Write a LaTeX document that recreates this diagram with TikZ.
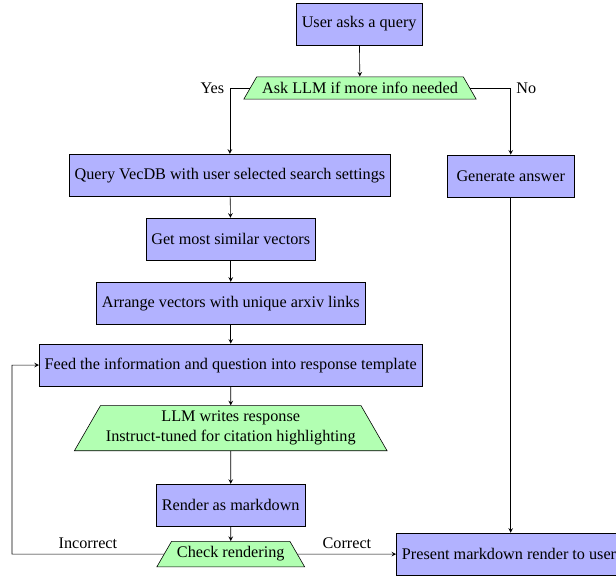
\documentclass[tikz,border=0pt,11pt]{standalone}
\usepackage{fontspec}
\setmainfont{Liberation Serif}
\usepackage{tikz}
\usetikzlibrary{shapes.geometric}
\usetikzlibrary{arrows}

\begin{document}
\begin{tikzpicture}[>=stealth,
    process/.style={rectangle,draw,fill=blue!30,minimum width=3cm,minimum height=1cm,align=center},
    decision/.style={trapezium,draw,fill=green!30,align=center}]

      \useasboundingbox (0,0) rectangle (14.63,-13.68);

      \node[process]   (query)   at (8.53, -0.57)   {User asks a query};
      \node[decision]  (ask)     at (8.55, -2.09)   {Ask LLM if more info needed};
      \node[process]   (vecdb)   at (5.46, -4.16)   {Query VecDB with user selected search settings};
      \node[process]   (answer)  at (12.13, -4.18)  {Generate answer};
      \node[process]   (similar) at (5.48, -5.68)   {Get most similar vectors};
      \node[process]   (arrange) at (5.48, -7.20)   {Arrange vectors with unique arxiv links};
      \node[process]   (feed)    at (5.48, -8.67)   {Feed the information and question into response template};
      \node[decision]  (llm)     at (5.48, -10.17)  {LLM writes response\\Instruct-tuned for citation highlighting};
      \node[process]   (render)  at (5.48, -12.0)   {Render as markdown};
      \node[decision]  (check)   at (5.48, -13.16)  {Check rendering};
      \node[process,anchor=west] (present) at (9.41, -13.16) {Present markdown render to user};
      \coordinate (back) at (0.285, -13.16);

      \draw[->] (query) -- (ask);
      \draw[->] (ask.west) -| node[pos=0.5,left] {Yes} (vecdb.north);
      \draw[->] (ask.east) -| node[pos=0.5,right] {No} (answer.north);
      \draw[->] (vecdb) -- (similar);
      \draw[->] (similar) -- (arrange);
      \draw[->] (arrange) -- (feed);
      \draw[->] (feed) -- (llm);
      \draw[->] (llm) -- (render);
      \draw[->] (render) -- (check);
      \draw[->] (check.east) -- node[above] {Correct} (present.west);
      \draw[->] (answer.south) -- (answer.south |- present.north);
      \draw[->] (check.west) -- node[above] {Incorrect} (back) |- (feed.west);
    \end{tikzpicture}
\end{document}
